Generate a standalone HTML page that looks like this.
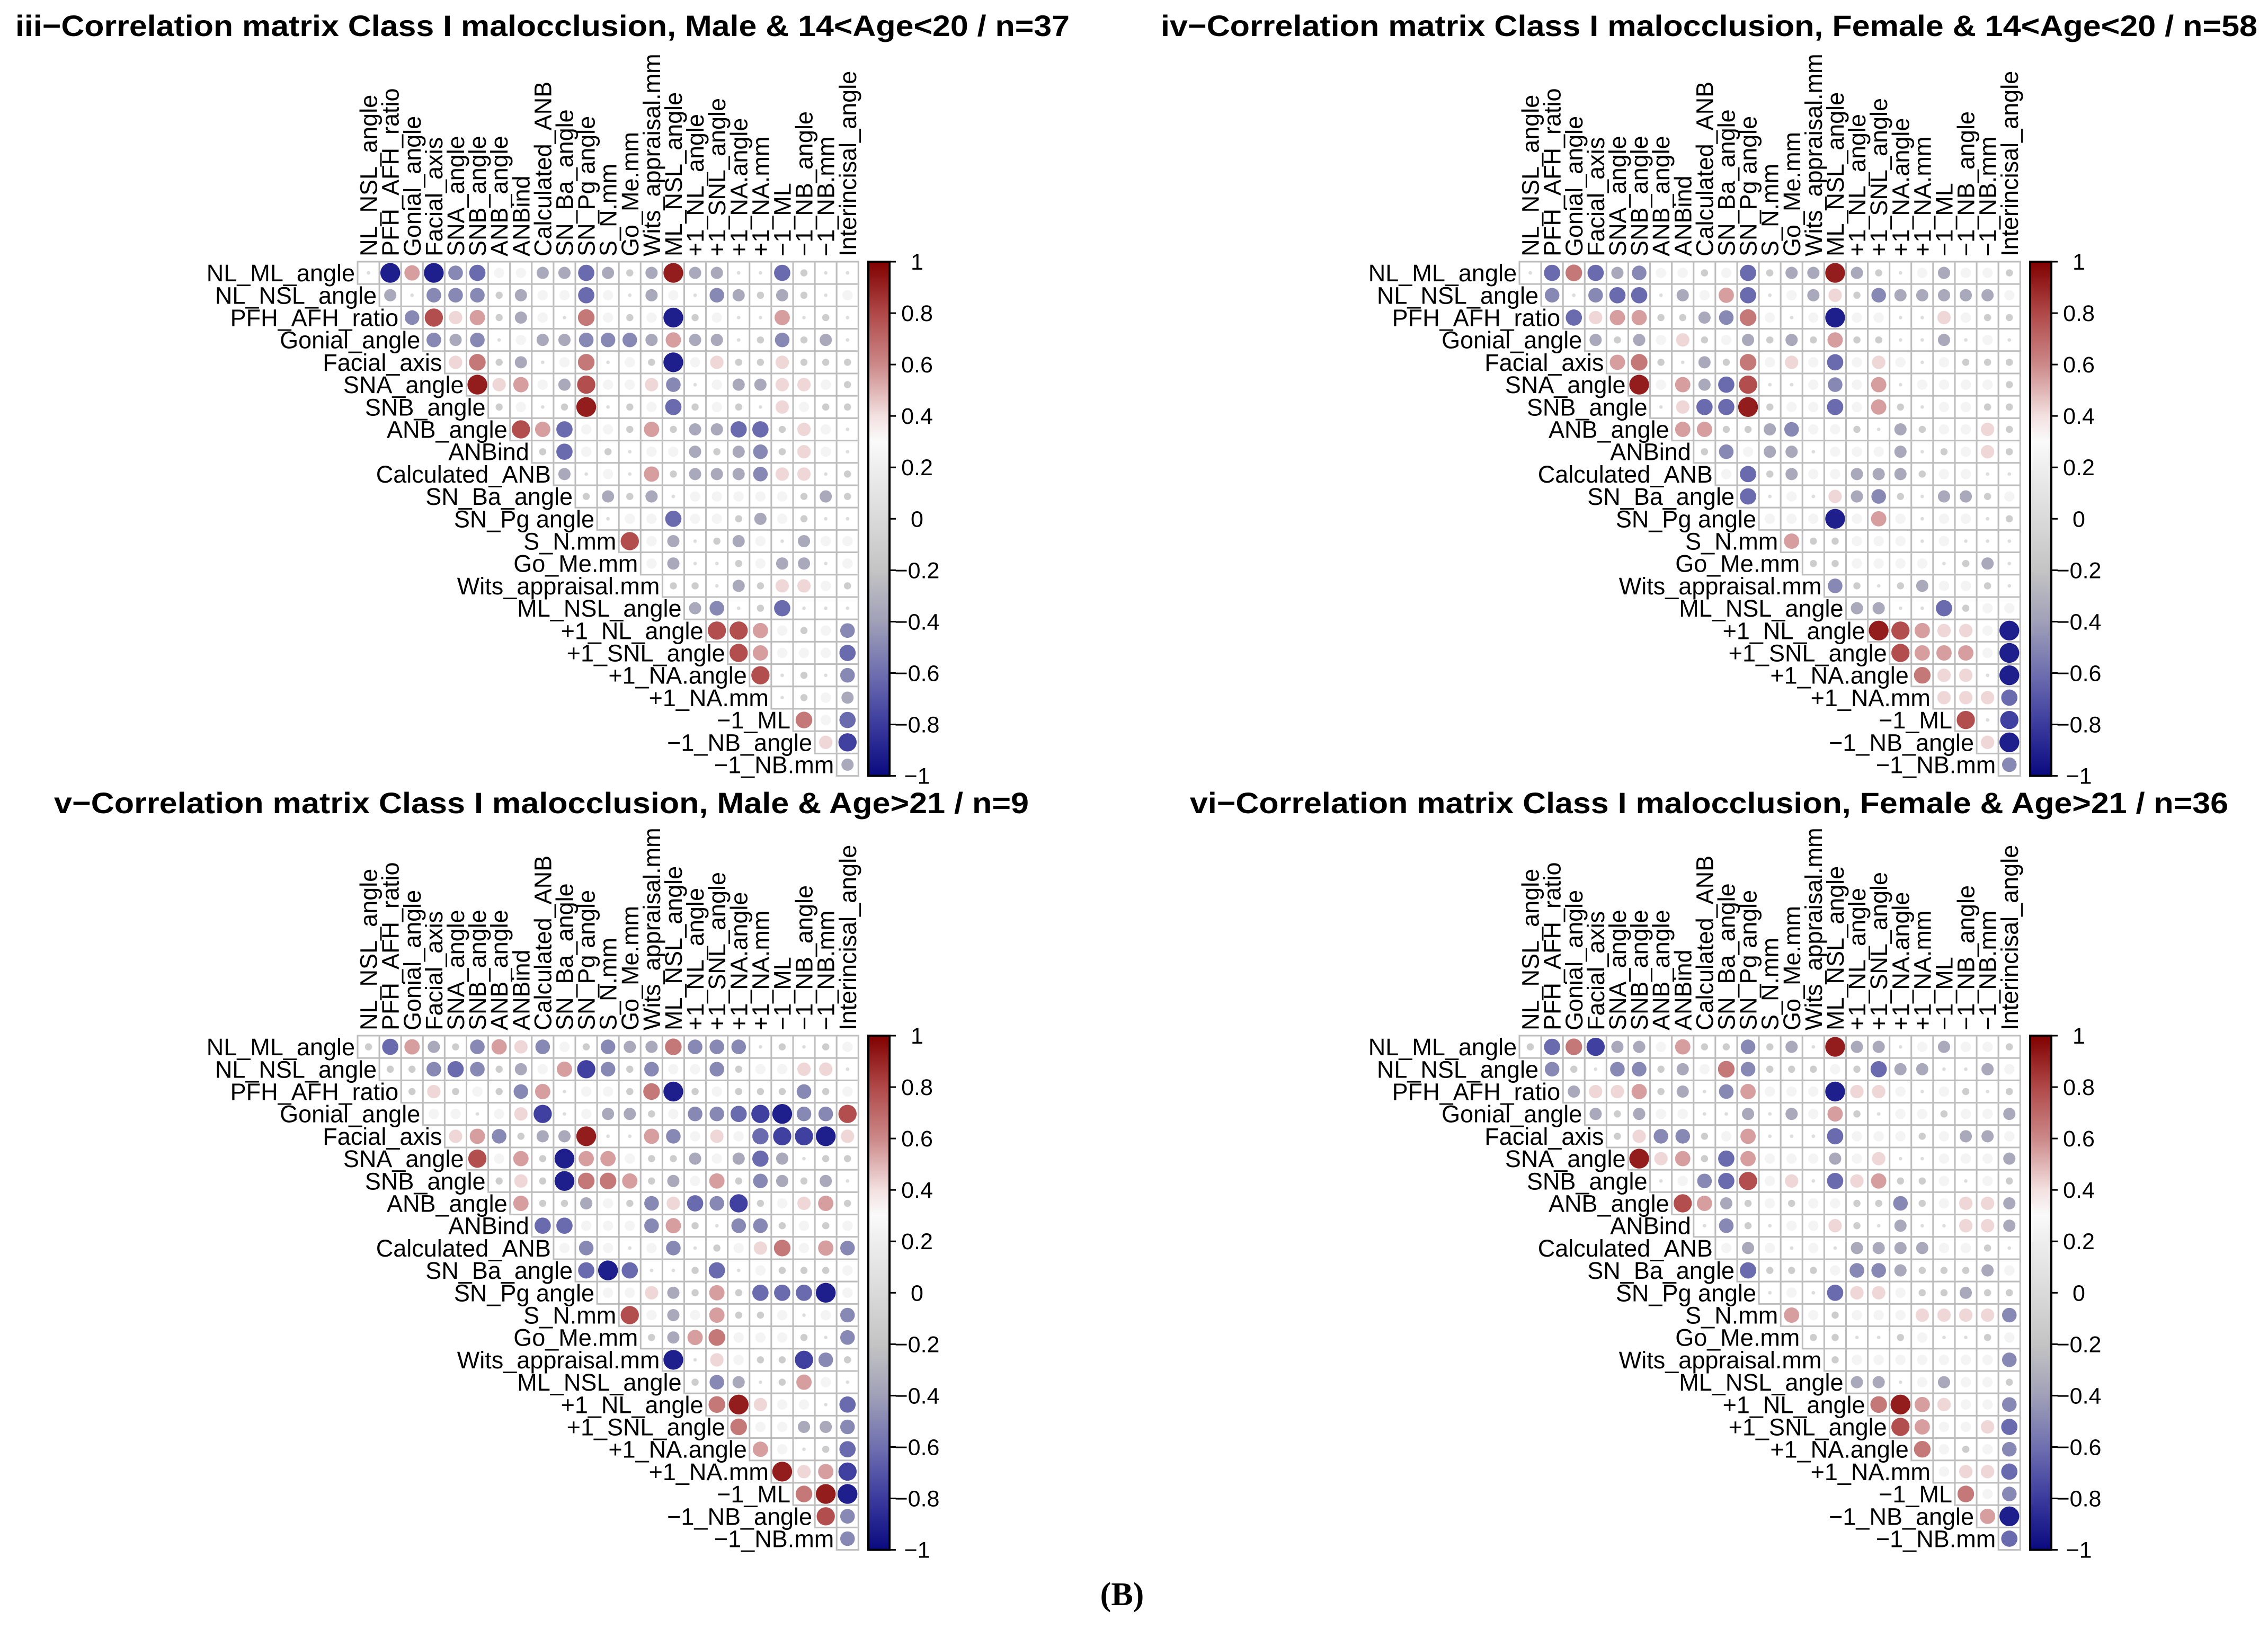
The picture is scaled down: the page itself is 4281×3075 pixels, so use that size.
<!DOCTYPE html>
<html><head><meta charset="utf-8"><title>Correlation matrices</title>
<style>
html,body{margin:0;padding:0;background:#fff;}
svg{display:block;}
text{font-family:"Liberation Sans",sans-serif;}
</style></head>
<body>
<svg id="fig" xmlns="http://www.w3.org/2000/svg" width="4281" height="3075" viewBox="0 0 4281 3075">
<rect x="0" y="0" width="4281" height="3075" fill="#fff"/>
<defs>
<linearGradient id="cbar" x1="0" y1="0" x2="0" y2="1">
<stop offset="0" stop-color="#800000"/>
<stop offset="0.1" stop-color="#b04848"/>
<stop offset="0.2" stop-color="#cc8888"/>
<stop offset="0.3" stop-color="#f3e0e0"/>
<stop offset="0.35" stop-color="#fafafa"/>
<stop offset="0.4" stop-color="#eeeeee"/>
<stop offset="0.5" stop-color="#dadada"/>
<stop offset="0.6" stop-color="#c4c4c4"/>
<stop offset="0.7" stop-color="#a0a0b8"/>
<stop offset="0.8" stop-color="#6f6fb0"/>
<stop offset="0.9" stop-color="#3b3b9e"/>
<stop offset="1" stop-color="#0a0a80"/>
</linearGradient>
</defs>
<text x="2118" y="3030" text-anchor="middle" font-size="62" font-weight="bold" style="font-family:'Liberation Serif',serif">(B)</text>
</svg>
<script>
const varNames = ["NL_ML_angle","NL_NSL_angle","PFH_AFH_ratio","Gonial_angle","Facial_axis","SNA_angle","SNB_angle","ANB_angle","ANBind","Calculated_ANB","SN_Ba_angle","SN_Pg angle","S_N.mm","Go_Me.mm","Wits_appraisal.mm","ML_NSL_angle","+1_NL_angle","+1_SNL_angle","+1_NA.angle","+1_NA.mm","\u22121_ML","\u22121_NB_angle","\u22121_NB.mm","Interincisal_angle"];
const colorTicks = [1,0.8,0.6,0.4,0.2,0,-0.2,-0.4,-0.6,-0.8,-1];
const tickLabels = ["1","0.8","0.6","0.4","0.2","0","\u22120.2","\u22120.4","\u22120.6","\u22120.8","\u22121"];
const panelTitles = ["iii\u2212Correlation matrix Class I malocclusion, Male & 14<Age<20 / n=37","iv\u2212Correlation matrix Class I malocclusion, Female & 14<Age<20 / n=58","v\u2212Correlation matrix Class I malocclusion, Male & Age>21 / n=9","vi\u2212Correlation matrix Class I malocclusion, Female & Age>21 / n=36"];

const corrIII = [
[.03,-.92,.55,-.92,-.5,-.62,.25,.25,-.35,-.35,-.62,-.35,-.12,-.35,.92,-.35,-.35,.03,.03,-.62,-.12,.03,.03],
[-.35,.03,-.5,-.5,-.5,-.12,-.35,.25,.25,-.62,.25,.03,-.35,.25,.03,-.5,-.35,-.12,-.35,-.12,.03,.25],
[-.5,.78,.42,.55,-.12,-.35,.25,.03,.65,.25,-.12,.25,-.92,-.12,.25,.03,.03,.55,.03,-.12,.03],
[-.5,-.35,-.5,.03,.25,-.35,-.35,-.5,-.5,-.5,-.35,.55,-.35,-.35,.03,-.12,-.5,-.12,-.35,.03],
[.42,.65,-.12,-.35,.03,.25,.65,.03,.25,-.12,-.92,.25,.42,-.12,-.12,.42,-.12,-.12,-.12],
[.92,.42,.55,.25,-.35,.78,.25,.25,.42,-.5,.03,.25,-.35,-.35,.42,.42,.25,-.12],
[-.12,.25,.03,-.12,.92,.03,-.12,.25,-.62,-.12,.25,-.12,.03,.42,.25,-.12,-.12],
[.78,.55,-.62,.25,.25,-.12,.55,-.12,-.35,-.35,-.62,-.62,-.12,.42,.25,.03],
[-.12,-.62,.25,-.12,.03,.25,.25,-.35,-.12,-.35,-.5,-.12,.42,.25,.03],
[-.35,.03,.25,.03,.55,-.12,-.35,-.35,-.35,-.5,.42,.42,.03,-.12],
[-.12,-.35,-.12,-.35,.03,.25,.25,.25,.25,.25,-.12,-.35,-.12],
[.03,.25,.25,-.62,.25,.25,-.12,-.35,.25,-.12,.03,.03],
[.78,.25,-.35,.03,-.12,-.35,.25,.03,-.35,.25,.25],
[.25,-.35,.03,.03,-.12,.25,-.35,-.35,.03,.25],
[-.12,-.12,.03,-.35,-.12,.42,.42,.25,-.12],
[-.35,-.5,.03,-.12,-.62,.03,.03,.03],
[.78,.78,.55,.25,-.12,.25,-.5],
[.78,.55,.25,.25,.25,-.62],
[.78,.03,-.12,.03,-.5],
[.03,-.12,.25,-.35],
[.65,.25,-.62],
[.42,-.78],
[-.35]];

const corrIV = [
[.03,-.62,.65,-.62,-.35,-.5,.25,.25,-.12,.25,-.62,-.12,-.35,-.35,.92,-.35,-.12,.03,.25,-.35,.25,.25,-.12],
[-.5,.03,-.5,-.62,-.62,.03,-.35,.25,.55,-.62,.03,.25,-.35,.42,-.12,-.5,-.35,-.35,-.35,-.35,-.35,.25],
[-.62,.42,.55,.55,-.12,-.12,-.35,-.5,.65,.25,.03,.25,-.92,.25,.25,.03,.03,.42,.25,-.12,-.12],
[-.35,-.12,-.35,.25,.42,-.12,.25,-.35,-.12,-.35,-.12,.55,-.12,-.12,.03,.03,-.35,.03,.25,.03],
[.55,.65,-.12,.03,-.35,-.12,.65,.25,.42,.25,-.62,.25,.42,.25,.03,.25,-.12,-.12,-.12],
[.92,.25,.55,-.35,-.62,.78,.03,.03,.25,-.5,.25,.55,.03,.25,.25,.25,.25,-.12],
[.03,.42,-.62,-.62,.92,-.12,.25,.25,-.62,.25,.55,-.12,.03,.25,.25,-.12,-.12],
[.55,.55,-.12,-.12,-.35,-.5,.25,.25,-.12,.03,-.35,-.12,.25,.25,.42,-.12],
[-.12,-.5,.25,-.35,-.35,.03,.25,.25,.25,-.35,.03,-.12,.25,.42,-.12],
[.25,-.62,-.12,-.35,.25,.25,-.35,-.35,-.35,-.12,.25,.25,.03,.03],
[-.62,.03,.25,.03,.42,-.35,-.5,-.12,.03,-.35,-.35,-.12,.25],
[.25,.25,.25,-.92,.25,.55,.25,.03,.25,.25,.03,-.12],
[.55,-.12,-.12,.25,.25,.25,.03,.25,.03,.03,.03],
[-.12,-.12,.25,.25,.25,.25,.03,-.12,-.35,.03],
[-.5,-.12,.03,-.12,-.35,.25,.25,-.12,.03],
[-.35,-.35,.03,.03,-.62,-.12,.25,.25],
[.92,.78,.55,.42,.42,.25,-.92],
[.78,.55,.55,.55,.25,-.92],
[.65,.42,.42,.03,-.92],
[.42,.42,.42,-.62],
[.78,.03,-.78],
[.42,-.92],
[-.5]];

const corrV = [
[-.12,-.62,.55,-.35,-.12,-.5,.55,.42,-.5,.25,-.12,-.5,-.35,-.35,.65,-.5,-.5,-.5,.03,-.12,.03,-.12,.25],
[-.12,-.12,-.5,-.62,-.5,-.12,-.35,.25,.55,-.78,-.5,-.12,-.5,.25,.25,-.5,-.12,.25,.25,.42,.42,.03],
[-.12,.42,-.12,.25,-.12,-.5,.55,.03,.25,.25,-.12,.65,-.92,-.12,.25,-.12,-.12,-.12,-.5,-.12,.25],
[.25,.25,.03,.25,.42,-.78,.03,.25,-.35,-.35,-.12,.25,-.5,-.5,-.62,-.78,-.92,-.5,-.5,.78],
[.42,.55,-.5,-.12,-.35,-.35,.92,.03,.03,.55,-.5,.25,.42,.25,-.62,-.78,-.78,-.92,.42],
[.78,.25,.55,-.12,-.92,.55,.55,.25,-.12,-.12,-.35,.25,-.35,-.62,-.35,.03,-.12,-.12],
[-.12,.42,-.12,-.92,.65,.65,.55,-.12,-.35,.25,.55,-.12,-.5,-.35,-.12,-.35,.03],
[.55,-.12,-.12,-.35,.25,-.12,-.5,.42,-.62,-.5,-.78,-.12,.25,.42,.55,-.12],
[-.62,-.62,.25,.25,.25,-.5,.55,-.12,.03,-.5,-.5,-.12,.25,-.12,.25],
[.25,-.5,.25,.03,.25,-.5,.03,-.12,.25,.42,.65,.25,.55,-.5],
[-.62,-.92,-.62,.03,.03,-.12,-.62,.03,.25,-.12,-.12,-.12,.25],
[.25,.25,.42,-.35,-.12,.55,-.12,-.62,-.62,-.62,-.92,.25],
[.78,.25,-.35,.25,.55,-.12,-.12,.25,.03,.25,-.5],
[-.12,-.35,.55,.65,.25,.25,.25,-.12,.03,-.5],
[-.92,.03,.42,.25,-.12,-.12,-.78,-.5,-.12],
[-.12,-.5,-.35,.03,-.12,.55,.25,.03],
[.65,.92,.42,.25,.25,.03,-.62],
[.65,.25,.25,-.35,-.35,-.5],
[.55,.25,.03,-.12,-.62],
[.92,.42,.55,-.78],
[.65,.92,-.92],
[.78,-.5],
[-.5]];

const corrVI = [
[-.12,-.62,.65,-.78,-.35,-.35,.25,.55,-.12,-.12,-.5,-.12,-.35,.03,.92,-.35,-.35,.03,.25,-.35,.25,.25,-.12],
[-.5,-.12,.03,-.5,-.5,-.12,-.35,.25,.65,-.5,-.12,-.12,-.12,.25,-.12,-.62,-.35,-.35,.03,.03,-.35,.25],
[-.35,.42,.42,.55,-.12,-.35,.03,-.5,.55,.25,.25,.25,-.92,.42,.42,.25,.03,.25,-.12,.03,-.12],
[-.35,-.12,-.35,.25,.25,.03,.03,-.35,.03,-.35,.25,.55,-.12,.03,.25,.25,-.12,.25,.25,-.35],
[-.12,.42,-.5,-.5,-.12,.25,.55,.03,.03,.03,-.62,.25,.25,.25,-.12,.25,-.35,-.35,.25],
[.92,.42,.55,-.12,-.62,.55,.25,.25,.25,-.35,.25,.42,.03,.03,.25,.25,.25,-.35],
[.03,.25,-.5,-.62,.78,.25,.42,.03,-.62,.42,.55,-.12,-.12,.25,.03,.25,-.12],
[.78,.55,-.35,-.12,.25,-.12,.25,.25,-.12,-.12,-.5,-.12,.25,.42,.42,-.35],
[.03,-.5,-.12,.03,.25,.25,.42,-.12,.03,-.35,.03,.03,.42,.42,-.35],
[.25,-.35,.25,.03,.25,.03,-.35,-.35,-.35,-.35,.25,.25,-.12,.03],
[-.62,-.12,-.12,-.12,.25,-.5,-.5,-.35,-.12,-.12,-.12,-.35,.25],
[.03,.25,.03,-.62,.42,.42,.25,-.12,-.12,-.35,-.12,-.12],
[.55,.25,-.12,.25,.25,.25,.42,.42,.42,.42,-.5],
[-.12,-.12,.03,.03,-.12,.25,.03,.03,-.12,.25],
[-.12,.25,.25,.25,.25,.25,.25,.25,-.5],
[-.35,-.35,.03,.25,-.35,.25,.25,-.12],
[.65,.92,.55,.42,.25,.25,-.5],
[.78,.55,.25,.25,.42,-.62],
[.65,.25,-.12,.25,-.5],
[.25,.42,.42,-.62],
[.65,.25,-.5],
[.55,-.92],
[-.62]];

const NS = "http://www.w3.org/2000/svg";
const svg = document.getElementById("fig");
const CW = 41.1, CH = 42.2, N = 23;
const panels = [
 {data: corrIII, gx: 675, gy: 494, tx: 1024, ty: 68, tw: 1990, key: "iii"},
 {data: corrIV, gx: 2868, gy: 494, tx: 3226, ty: 68, tw: 2070, key: "iv"},
 {data: corrV, gx: 675, gy: 1955, tx: 1022, ty: 1535, tw: 1840, key: "v"},
 {data: corrVI, gx: 2868, gy: 1955, tx: 3226, ty: 1535, tw: 1960, key: "vi"}
];
const cStops = [[-1,[10,10,128]],[-0.8,[59,59,158]],[-0.6,[111,111,176]],[-0.4,[160,160,184]],[-0.2,[196,196,196]],[0,[218,218,218]],[0.2,[238,238,238]],[0.3,[250,250,250]],[0.4,[243,224,224]],[0.6,[204,136,136]],[0.8,[176,72,72]],[1,[128,0,0]]];
function colorOf(v){
  for(let i=0;i<cStops.length-1;i++){
    const a=cStops[i], b=cStops[i+1];
    if(v>=a[0] && v<=b[0]){
      const t=(v-a[0])/(b[0]-a[0]);
      const c=a[1].map((x,k)=>Math.round(x+(b[1][k]-x)*t));
      return "rgb("+c.join(",")+")";
    }
  }
  return v<0?"rgb(10,10,128)":"rgb(128,0,0)";
}
function mk(tag, attrs){
  const e=document.createElementNS(NS,tag);
  for(const k in attrs) e.setAttribute(k,attrs[k]);
  return e;
}
panels.forEach((p,pi)=>{
  const g = mk("g",{});
  
  
  svg.appendChild(g);
  const xOf = c => p.gx + c*CW;
  const yOf = r => p.gy + r*CH;
  const t = mk("text",{x:p.tx,y:p.ty,"text-anchor":"middle","font-size":"56","font-weight":"bold",textLength:p.tw,lengthAdjust:"spacingAndGlyphs"});
  t.textContent = panelTitles[pi];
  
  
  g.appendChild(t);
  for(let r=0;r<N;r++){
    for(let c=r;c<N;c++){
      const cell = mk("rect",{x:xOf(c),y:yOf(r),width:CW,height:CH,fill:"#fff",stroke:"#bdbdbd","stroke-width":"3"});
      
      
      g.appendChild(cell);
    }
  }
  for(let r=0;r<N;r++){
    const row = p.data[r];
    for(let k=0;k<row.length;k++){
      const c = r+k, v=row[k];
      const circ = mk("circle",{cx:xOf(c)+CW/2,cy:yOf(r)+CH/2,r:(19.5*Math.sqrt(Math.abs(v))).toFixed(2),fill:colorOf(v)});
      
      
      g.appendChild(circ);
    }
    const rl = mk("text",{x:xOf(r)-5,y:yOf(r)+CH/2+16,"text-anchor":"end","font-size":"45"});
    rl.textContent = varNames[r];
    
    
    g.appendChild(rl);
  }
  for(let c=0;c<N;c++){
    const cx = xOf(c)+CW/2+16, cy = p.gy-10;
    const cl = mk("text",{x:cx,y:cy,"font-size":"45",transform:"rotate(-90 "+cx+" "+cy+")"});
    cl.textContent = varNames[c+1];
    
    
    g.appendChild(cl);
  }
  const bx = p.gx+964, bw = 40, bh = N*CH;
  const cb = mk("rect",{x:bx,y:p.gy,width:bw,height:bh,fill:"url(#cbar)",stroke:"#000","stroke-width":"4"});
  
  
  g.appendChild(cb);
  colorTicks.forEach((v,i)=>{
    const y = p.gy + (1-v)/2*bh;
    const tk = mk("line",{x1:bx+bw,x2:bx+bw+12,y1:y,y2:y,stroke:"#000","stroke-width":"3"});
    
    
    g.appendChild(tk);
    const tl = mk("text",{x:bx+bw+52,y:y+15,"text-anchor":"middle","font-size":"43"});
    tl.textContent = tickLabels[i];
    
    
    g.appendChild(tl);
  });
});
</script>
</body></html>
